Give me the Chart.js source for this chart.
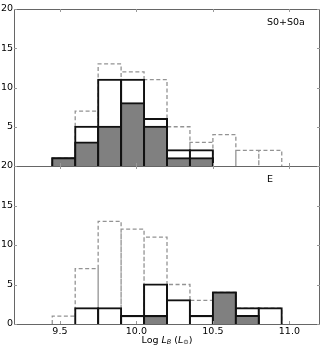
<!DOCTYPE html>
<html>
<head>
<meta charset="utf-8">
<script src="https://cdn.jsdelivr.net/npm/chart.js@4.4.1/dist/chart.umd.min.js"></script>
<style>
    html, body { margin: 0; padding: 0; background: #fff; }
    #wrap { position: relative; width: 330px; height: 347px; }
    #wrap canvas { position: absolute; left: 0; top: 0; }
</style>
</head>
<body>
<div id="wrap">
    <canvas id="topChart" width="330" height="347"></canvas>
    <canvas id="bottomChart" width="330" height="347"></canvas>
</div>
<script>
    // bin left edges, width 0.15
    const binEdges = [9.45, 9.60, 9.75, 9.90, 10.05, 10.20, 10.35, 10.50, 10.65, 10.80, 10.95];

    // whole sample (dashed, same in both panels)
    const allGalaxies = [1, 7, 13, 12, 11, 5, 3, 4, 2, 2];

    // S0+S0a panel
    const s0Open = [1, 5, 11, 11, 6, 2, 2, 0, 0, 0];
    const s0Filled = [1, 3, 5, 8, 5, 1, 1, 0, 0, 0];

    // E panel
    const eOpen = [0, 2, 2, 1, 5, 3, 1, 4, 2, 2];
    const eFilled = [0, 0, 0, 0, 1, 0, 0, 4, 1, 0];

    const xTicks = [9.5, 10.0, 10.5, 11.0];
    const yTicks = [0, 5, 10, 15, 20];
    const xRange = [9.2, 11.2];
    const yRange = [0, 20];

    const FONT = 'DejaVu Sans, sans-serif';
    const GRAY = '#808080';
    const DARK = '#111111';

    function barPoints(values) {
        return values.map((v, i) => ({
            x: (binEdges[i] + binEdges[i + 1]) / 2,
            y: v > 0 ? v : null
        }));
    }

    // outline of every bar, traced as one path
    function outlinePoints(values) {
        const pts = [];
        values.forEach((v, i) => {
            const a = binEdges[i], b = binEdges[i + 1];
            pts.push({ x: a, y: 0 }, { x: a, y: v }, { x: b, y: v }, { x: b, y: 0 });
        });
        return pts;
    }

    const framePlugin = {
        id: 'frame',
        afterDatasetsDraw(chart, args, opts) {
            const { ctx, chartArea: a, scales } = chart;
            ctx.save();
            ctx.strokeStyle = '#666';
            ctx.lineWidth = 1;
            ctx.strokeRect(a.left + 0.5, a.top + 0.5, a.right - a.left - 1, a.bottom - a.top);
            ctx.strokeStyle = '#999';
            ctx.beginPath();
            xTicks.forEach(v => {
                const px = Math.round(scales.x.getPixelForValue(v)) + 0.5;
                ctx.moveTo(px, a.bottom); ctx.lineTo(px, a.bottom - 3);
                ctx.moveTo(px, a.top); ctx.lineTo(px, a.top + 3);
            });
            yTicks.forEach(v => {
                const py = Math.round(scales.y.getPixelForValue(v)) + 0.5;
                ctx.moveTo(a.left, py); ctx.lineTo(a.left + 3, py);
                ctx.moveTo(a.right, py); ctx.lineTo(a.right - 3, py);
            });
            ctx.stroke();

            ctx.fillStyle = '#000';
            ctx.font = '9.5px ' + FONT;
            ctx.textBaseline = 'middle';
            ctx.textAlign = 'left';
            ctx.fillText(opts.label, 267, a.top + 14);

            if (opts.xTitle) {
                // Log L_B (L_sun)
                const y = 340.5;
                const parts = [
                    ['Log ', '9.5px ' + FONT, 0],
                    ['L', 'italic 9.5px ' + FONT, 0],
                    ['B', 'italic 6.5px ' + FONT, 2],
                    [' (', '9.5px ' + FONT, 0],
                    ['L', 'italic 9.5px ' + FONT, 0],
                    ['\u2299', '6.5px ' + FONT, 2],
                    [')', '9.5px ' + FONT, 0]
                ];
                let w = 0;
                parts.forEach(p => { ctx.font = p[1]; w += ctx.measureText(p[0]).width; });
                let x = (a.left + a.right) / 2 - w / 2;
                parts.forEach(p => {
                    ctx.font = p[1];
                    ctx.fillText(p[0], x, y + p[2]);
                    x += ctx.measureText(p[0]).width;
                });
            }
            ctx.restore();
        }
    };

    function makeChart(id, openVals, filledVals, opts) {
        return new Chart(document.getElementById(id), {
            type: 'bar',
            data: {
                datasets: [
                    {
                        type: 'bar',
                        data: barPoints(filledVals),
                        backgroundColor: GRAY,
                        borderColor: DARK,
                        borderWidth: 2,
                        inflateAmount: 1,
                        grouped: false,
                        barPercentage: 1,
                        categoryPercentage: 1,
                        order: 0
                    },
                    {
                        type: 'bar',
                        data: barPoints(openVals),
                        backgroundColor: '#ffffff',
                        borderColor: DARK,
                        borderWidth: 2,
                        inflateAmount: 1,
                        grouped: false,
                        barPercentage: 1,
                        categoryPercentage: 1,
                        order: 1
                    },
                    {
                        type: 'line',
                        data: outlinePoints(allGalaxies),
                        borderColor: '#939393',
                        borderWidth: 1.3,
                        borderDash: [4, 2.5],
                        pointRadius: 0,
                        tension: 0,
                        fill: false,
                        order: 2
                    }
                ]
            },
            options: {
                responsive: false,
                animation: false,
                events: [],
                layout: { padding: opts.padding },
                plugins: {
                    legend: { display: false },
                    tooltip: { enabled: false },
                    frame: { label: opts.label, xTitle: opts.xTitle }
                },
                scales: {
                    x: {
                        type: 'linear',
                        min: xRange[0],
                        max: xRange[1],
                        display: opts.showX,
                        offset: false,
                        grid: { display: false, drawTicks: false },
                        border: { display: false },
                        afterBuildTicks: s => { s.ticks = xTicks.map(v => ({ value: v })); },
                        afterFit: s => { s.height = opts.showX ? 23 : 0; },
                        ticks: {
                            color: '#000',
                            padding: 2,
                            maxRotation: 0,
                            font: { family: FONT, size: 9.5 },
                            callback: v => Number(v).toFixed(1)
                        }
                    },
                    y: {
                        min: yRange[0],
                        max: yRange[1],
                        grid: { display: false, drawTicks: false },
                        border: { display: false },
                        afterBuildTicks: s => { s.ticks = opts.yTicks.map(v => ({ value: v })); },
                        afterFit: s => { s.width = 14; },
                        ticks: {
                            color: '#000',
                            padding: 1,
                            font: { family: FONT, size: 9.5 }
                        }
                    }
                }
            },
            plugins: [framePlugin]
        });
    }

    makeChart('topChart', s0Open, s0Filled, {
        padding: { top: 9, right: 10, bottom: 181, left: 0 },
        showX: false,
        yTicks: yTicks.slice(1),
        label: 'S0+S0a',
        xTitle: false
    });

    makeChart('bottomChart', eOpen, eFilled, {
        padding: { top: 166, right: 10, bottom: 0, left: 0 },
        showX: true,
        yTicks: yTicks,
        label: 'E',
        xTitle: true
    });
</script>
</body>
</html>
